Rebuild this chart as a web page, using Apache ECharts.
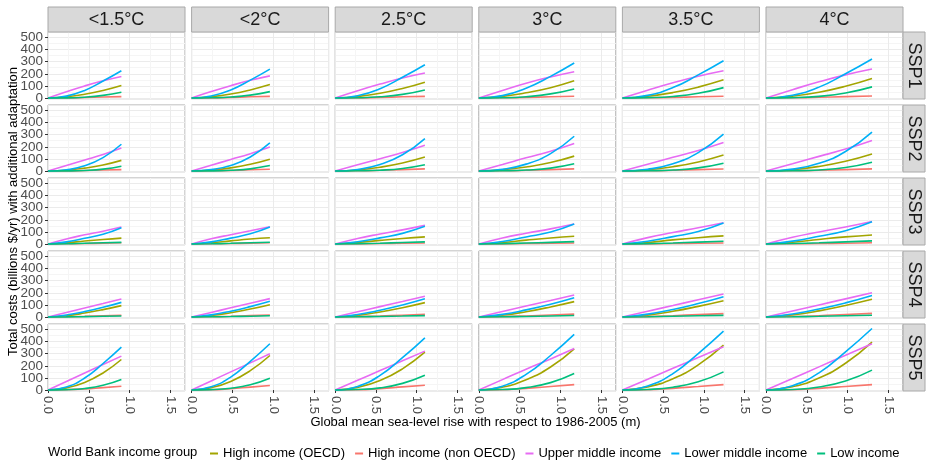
<!DOCTYPE html>
<html>
<head>
<meta charset="utf-8">
<script src="https://cdn.jsdelivr.net/npm/echarts@6/dist/echarts.min.js"></script>
<style>html,body{margin:0;padding:0;background:#fff}#c{width:927px;height:462px}</style>
</head>
<body>
<div id="c"></div>
<script>
// Facet labels
const temps = ['<1.5°C', '<2°C', '2.5°C', '3°C', '3.5°C', '4°C'];
const ssps = ['SSP1', 'SSP2', 'SSP3', 'SSP4', 'SSP5'];
const groups = ['High income (OECD)', 'High income (non OECD)', 'Upper middle income', 'Lower middle income', 'Low income'];
const groupColors = ['#A3A500', '#F8766D', '#E76BF3', '#00B0F6', '#00BF7D'];
const xTicks = [0, 0.5, 1.0, 1.5];
const yTicks = [0, 100, 200, 300, 400, 500];

// Sea-level rise (m) sample points per temperature column
const seaLevel = [
  [0, 0.225, 0.45, 0.675, 0.90],
  [0, 0.24, 0.48, 0.72, 0.96],
  [0, 0.275, 0.55, 0.825, 1.10],
  [0, 0.29, 0.58, 0.88, 1.17],
  [0, 0.31, 0.62, 0.93, 1.24],
  [0, 0.325, 0.65, 0.975, 1.30]
];

// Costs (billions $/yr): [SSP row][temperature column][point]
const highOECD = [
  [[0,10,31,62,103],[0,11,33,67,111],[0,13,39,79,131],[0,14,43,85,142],[0,15,45,90,150],[0,16,48,97,161]],
  [[0,7,24,50,88],[0,8,26,56,98],[0,9,31,66,115],[0,10,33,70,123],[0,11,36,75,132],[0,11,38,80,140]],
  [[0,10,25,38,49],[0,10,26,41,52],[0,12,30,46,59],[0,13,32,50,64],[0,13,34,52,67],[0,15,38,59,75]],
  [[0,11,33,61,94],[0,12,36,66,102],[0,14,42,77,119],[0,15,44,83,127],[0,16,47,88,135],[0,18,51,95,146]],
  [[0,18,63,141,252],[0,20,71,160,285],[0,22,78,175,312],[0,24,85,190,340],[0,26,93,207,370],[0,28,99,221,395]]
];
const highNonOECD = [
  [[0,1,4,8,12],[0,1,5,10,14],[0,1,5,10,14],[0,2,5,10,15],[0,2,5,10,15],[0,2,6,12,17]],
  [[0,1,4,8,12],[0,2,5,10,15],[0,2,6,12,18],[0,2,6,12,18],[0,2,6,12,17],[0,2,6,12,18]],
  [[0,2,4,7,10],[0,2,4,7,10],[0,1,4,6,9],[0,1,4,6,9],[0,1,4,6,9],[0,2,4,7,10]],
  [[0,2,6,11,15],[0,2,6,12,17],[0,3,8,15,22],[0,3,9,17,24],[0,3,11,20,28],[0,4,11,21,30]],
  [[0,2,9,20,31],[0,2,11,24,37],[0,2,12,26,40],[0,2,14,29,45],[0,2,14,29,45],[0,2,14,29,45]]
];
const upperMiddle = [
  [[0,52,100,142,178],[0,53,102,146,183],[0,60,115,165,206],[0,63,122,174,217],[0,65,126,180,225],[0,69,134,191,239]],
  [[0,46,91,137,190],[0,48,95,143,198],[0,51,102,153,212],[0,54,109,163,227],[0,56,113,169,235],[0,60,121,181,252]],
  [[0,42,76,106,140],[0,43,77,109,143],[0,46,83,117,154],[0,50,89,125,165],[0,53,95,134,176],[0,56,100,141,186]],
  [[0,37,75,112,149],[0,38,76,114,152],[0,43,86,128,171],[0,46,91,137,182],[0,48,95,143,190],[0,50,100,150,200]],
  [[0,70,140,210,280],[0,75,150,224,299],[0,80,161,241,321],[0,86,172,257,343],[0,89,179,268,357],[0,96,191,287,382]]
];
const lowerMiddle = [
  [[0,16,63,140,225],[0,17,67,148,239],[0,19,77,171,275],[0,20,81,179,289],[0,22,86,191,308],[0,23,90,200,322]],
  [[0,11,44,111,221],[0,12,46,116,232],[0,13,54,134,268],[0,14,57,144,287],[0,15,61,152,304],[0,16,64,161,321]],
  [[0,18,47,81,135],[0,18,49,84,140],[0,19,51,88,146],[0,21,58,99,165],[0,23,61,104,174],[0,24,64,110,184]],
  [[0,17,45,80,121],[0,18,48,86,130],[0,21,56,99,150],[0,22,59,106,160],[0,24,62,111,168],[0,25,66,117,178]],
  [[0,25,99,219,354],[0,27,107,237,382],[0,30,121,267,431],[0,32,129,285,459],[0,34,136,301,486],[0,36,142,315,508]]
];
const lowIncome = [
  [[0,1,7,22,48],[0,2,8,24,53],[0,2,10,30,67],[0,2,11,34,75],[0,3,13,39,86],[0,3,14,41,92]],
  [[0,1,5,16,40],[0,1,6,18,45],[0,2,7,21,52],[0,2,8,24,60],[0,2,8,26,65],[0,2,9,29,73]],
  [[0,2,6,10,14],[0,2,6,11,15],[0,3,7,13,18],[0,3,8,14,20],[0,3,9,16,23],[0,4,10,18,26]],
  [[0,1,3,6,8],[0,2,4,7,10],[0,2,5,8,12],[0,2,5,9,13],[0,2,6,10,14],[0,2,6,11,15]],
  [[0,3,13,39,87],[0,3,15,44,98],[0,4,18,55,122],[0,4,20,61,136],[0,5,23,68,150],[0,5,25,74,164]]
];
const groupData = [highOECD, highNonOECD, upperMiddle, lowerMiddle, lowIncome];

// Layout
const FONT = '"Liberation Sans", Arial, sans-serif';
const L0 = 48, PW = 137, PITCH_X = 143.6;
const T0 = 32, PH = 67, PITCH_Y = 73;
const STRIP_H = 25, STRIP_W = 22;
const nR = ssps.length, nC = temps.length;

const grids = [], xAxes = [], yAxes = [], series = [], graphics = [];
for (let r = 0; r < nR; r++) {
  for (let c = 0; c < nC; c++) {
    const idx = r * nC + c;
    const left = L0 + c * PITCH_X, top = T0 + r * PITCH_Y;
    grids.push({left: left, top: top, width: PW, height: PH, show: true,
      backgroundColor: '#ffffff', borderColor: '#a8a8a8', borderWidth: 1});
    const bottomRow = r === nR - 1, firstCol = c === 0;
    xAxes.push({
      type: 'value', gridIndex: idx, min: 0, max: 1.68, interval: 0.5,
      axisLine: {show: false},
      axisTick: {show: bottomRow, length: 3, lineStyle: {color: '#333'}},
      axisLabel: {show: bottomRow, rotate: -90, margin: 5, fontSize: 13, color: '#4d4d4d',
        fontFamily: FONT, showMaxLabel: false, hideOverlap: false,
        formatter: v => (xTicks.indexOf(Math.round(v * 100) / 100) >= 0 ? v.toFixed(1) : '')},
      splitLine: {lineStyle: {color: '#ebebeb', width: 1}},
      minorTick: {show: false, splitNumber: 2},
      minorSplitLine: {show: true, lineStyle: {color: '#f5f5f5', width: 1}}
    });
    yAxes.push({
      type: 'value', gridIndex: idx, min: -8, max: 545, splitNumber: 5,
      axisLine: {show: false},
      axisTick: {show: firstCol, length: 3, lineStyle: {color: '#333'}},
      axisLabel: {show: firstCol, margin: 5, fontSize: 13.5, color: '#4d4d4d', fontFamily: FONT,
        showMinLabel: false, showMaxLabel: false, hideOverlap: false,
        formatter: v => (yTicks.indexOf(v) >= 0 ? String(v) : '')},
      splitLine: {lineStyle: {color: '#ebebeb', width: 1}},
      minorTick: {show: false, splitNumber: 2},
      minorSplitLine: {show: true, lineStyle: {color: '#f5f5f5', width: 1}}
    });
    groups.forEach((g, gi) => {
      const vals = groupData[gi][r][c];
      series.push({
        type: 'line', name: g, xAxisIndex: idx, yAxisIndex: idx,
        data: seaLevel[c].map((x, i) => [x, vals[i]]),
        showSymbol: false, symbol: 'none', smooth: 0.5,
        lineStyle: {color: groupColors[gi], width: 1.6},
        itemStyle: {color: groupColors[gi]},
        silent: true, z: 2 + gi
      });
    });
  }
}

// Top strips
temps.forEach((t, c) => {
  const left = L0 + c * PITCH_X;
  graphics.push({type: 'rect', shape: {x: left, y: T0 - STRIP_H, width: PW, height: STRIP_H},
    style: {fill: '#d9d9d9', stroke: '#a8a8a8', lineWidth: 1}, z: 10});
  graphics.push({type: 'text', x: left + PW / 2, y: T0 - STRIP_H / 2 + 1,
    style: {text: t, align: 'center', verticalAlign: 'middle', font: '18px ' + FONT, fill: '#1a1a1a'}, z: 11});
});
// Right strips
const rightX = L0 + (nC - 1) * PITCH_X + PW;
ssps.forEach((s, r) => {
  const top = T0 + r * PITCH_Y;
  graphics.push({type: 'rect', shape: {x: rightX, y: top, width: STRIP_W, height: PH},
    style: {fill: '#d9d9d9', stroke: '#a8a8a8', lineWidth: 1}, z: 10});
  graphics.push({type: 'text', x: rightX + STRIP_W / 2, y: top + PH / 2, rotation: -Math.PI / 2,
    style: {text: s, align: 'center', verticalAlign: 'middle', font: '18px ' + FONT, fill: '#1a1a1a'}, z: 11});
});
// Axis titles
graphics.push({type: 'text', x: 13, y: T0 + (nR * PITCH_Y - (PITCH_Y - PH)) / 2, rotation: Math.PI / 2,
  style: {text: 'Total costs (billions $/yr) with additional adaptation', align: 'center', verticalAlign: 'middle',
    font: '13px ' + FONT, fill: '#000'}});
graphics.push({type: 'text', x: L0 + ((nC - 1) * PITCH_X + PW) / 2, y: 422,
  style: {text: 'Global mean sea-level rise with respect to 1986-2005 (m)', align: 'center', verticalAlign: 'middle',
    font: '13px ' + FONT, fill: '#000'}});
// Legend title
graphics.push({type: 'text', x: 48, y: 452,
  style: {text: 'World Bank income group', align: 'left', verticalAlign: 'middle', font: '13px ' + FONT, fill: '#000'}});

const chart = echarts.init(document.getElementById('c'), null, {renderer: 'canvas'});
chart.setOption({
  animation: false,
  backgroundColor: '#ffffff',
  grid: grids, xAxis: xAxes, yAxis: yAxes, series: series,
  legend: {data: groups, left: 205, top: 442, icon: 'rect', itemWidth: 8, itemHeight: 2, itemGap: 10,
    textStyle: {fontSize: 13, color: '#000', fontFamily: FONT}, selectedMode: false},
  graphic: graphics
});
</script>
</body>
</html>
